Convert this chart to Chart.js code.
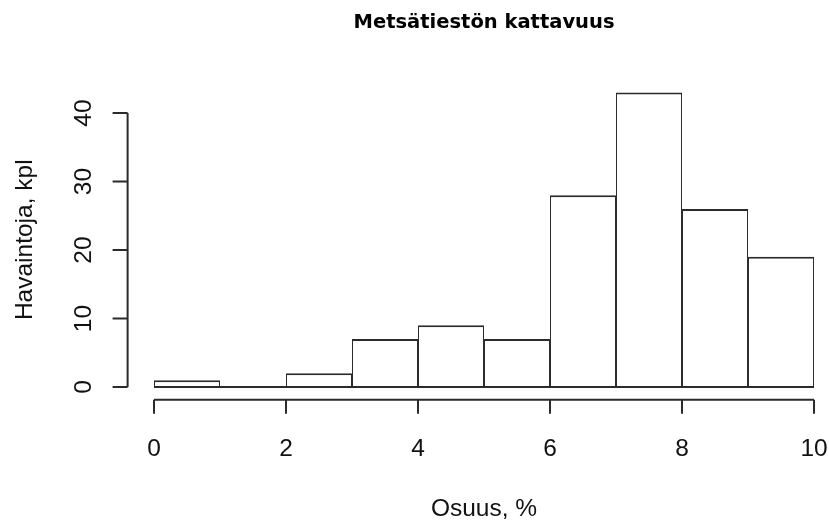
<!DOCTYPE html>
<html lang="fi">
<head>
    <meta charset="UTF-8">
    <title>Metsätiestön kattavuus</title>
    <script src="https://cdn.jsdelivr.net/npm/chart.js"></script>
    <style>
        body {
            margin: 0;
            background-color: #FFFFFF;
        }
        .chart-container {
            position: relative;
            width: 829px;
            height: 521px;
        }
    </style>
</head>
<body>
    <div class="chart-container">
        <canvas id="histChart" width="829" height="521"></canvas>
    </div>

    <script>
        // histogrammin luokkarajat ja frekvenssit
        const binEdges = [0, 1, 2, 3, 4, 5, 6, 7, 8, 9, 10];
        const counts = [1, 0, 2, 7, 9, 7, 28, 43, 26, 19];
        const xTicks = [0, 2, 4, 6, 8, 10];
        const yTicks = [0, 10, 20, 30, 40];

        const titleText = 'Metsätiestön kattavuus';
        const xTitle = 'Osuus, %';
        const yTitle = 'Havaintoja, kpl';

        const lineColor = '#2b2b2b';
        const labelFont = '24.5px "Liberation Sans", Arial, sans-serif';

        const barData = counts.map((c, i) => ({
            x: (binEdges[i] + binEdges[i + 1]) / 2,
            y: c
        }));

        // R-tyyliset irralliset akselit
        const rAxes = {
            id: 'rAxes',
            afterDraw(chart) {
                const ctx = chart.ctx;
                const area = chart.chartArea;
                const xs = chart.scales.x;
                const ys = chart.scales.y;
                ctx.save();
                ctx.strokeStyle = lineColor;
                ctx.fillStyle = '#111';
                ctx.lineWidth = 2;

                // x-akseli
                const xLineY = ys.getPixelForValue(ys.min) + 1;
                ctx.beginPath();
                ctx.moveTo(xs.getPixelForValue(xTicks[0]), xLineY);
                ctx.lineTo(xs.getPixelForValue(xTicks[xTicks.length - 1]), xLineY);
                xTicks.forEach(t => {
                    const px = xs.getPixelForValue(t);
                    ctx.moveTo(px, xLineY);
                    ctx.lineTo(px, xLineY + 14);
                });
                ctx.stroke();
                ctx.font = labelFont;
                ctx.textAlign = 'center';
                ctx.textBaseline = 'alphabetic';
                xTicks.forEach(t => {
                    ctx.fillText(String(t), xs.getPixelForValue(t), 456);
                });

                // y-akseli
                const yLineX = xs.getPixelForValue(xs.min);
                ctx.beginPath();
                ctx.moveTo(yLineX, ys.getPixelForValue(yTicks[0]));
                ctx.lineTo(yLineX, ys.getPixelForValue(yTicks[yTicks.length - 1]));
                yTicks.forEach(t => {
                    const py = ys.getPixelForValue(t);
                    ctx.moveTo(yLineX, py);
                    ctx.lineTo(yLineX - 15, py);
                });
                ctx.stroke();
                yTicks.forEach(t => {
                    ctx.save();
                    ctx.translate(yLineX - 37, ys.getPixelForValue(t));
                    ctx.rotate(-Math.PI / 2);
                    ctx.fillText(String(t), 0, 0);
                    ctx.restore();
                });

                // otsikot
                const midX = (area.left + xs.getPixelForValue(10.4)) / 2;
                ctx.fillText(xTitle, midX, 516);
                ctx.save();
                ctx.translate(32, (area.top + area.bottom) / 2);
                ctx.rotate(-Math.PI / 2);
                ctx.fillText(yTitle, 0, 0);
                ctx.restore();

                ctx.font = 'bold 19.5px "DejaVu Sans", Verdana, sans-serif';
                ctx.fillStyle = '#000';
                ctx.fillText(titleText, midX, 28);

                // nollakorkeuksisten pylväiden pohjaviiva
                ctx.beginPath();
                ctx.lineWidth = 2;
                ctx.moveTo(xs.getPixelForValue(binEdges[0]), ys.getPixelForValue(0));
                ctx.lineTo(xs.getPixelForValue(binEdges[binEdges.length - 1]), ys.getPixelForValue(0));
                ctx.stroke();
                ctx.restore();
            }
        };

        new Chart(document.getElementById('histChart'), {
            type: 'bar',
            data: {
                datasets: [{
                    data: barData,
                    backgroundColor: '#FFFFFF',
                    borderColor: lineColor,
                    borderWidth: { top: 2, left: 1, right: 1, bottom: 1 },
                    borderSkipped: false,
                    barPercentage: 1.0,
                    categoryPercentage: 1.0,
                    inflateAmount: 0
                }]
            },
            options: {
                responsive: false,
                animation: false,
                layout: {
                    padding: { left: 127.6, right: 0, top: 80.7, bottom: 122.2 }
                },
                scales: {
                    x: {
                        type: 'linear',
                        display: false,
                        offset: false,
                        min: -0.4,
                        max: 10.227
                    },
                    y: {
                        display: false,
                        min: -1.72,
                        max: 44.72
                    }
                },
                plugins: {
                    legend: { display: false },
                    tooltip: { enabled: false }
                }
            },
            plugins: [rAxes]
        });
    </script>
</body>
</html>
